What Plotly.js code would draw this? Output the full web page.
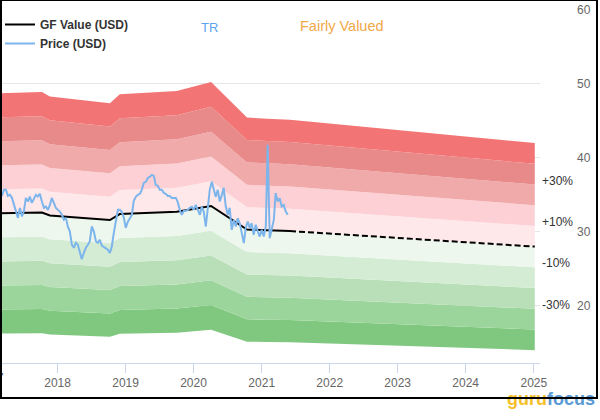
<!DOCTYPE html>
<html>
<head>
<meta charset="utf-8">
<script src="https://cdn.plot.ly/plotly-3.0.1.min.js"></script>
<style>
  html, body { margin: 0; padding: 0; background: #fff; }
  #wrap { position: relative; width: 600px; height: 420px; }
  #chart { width: 600px; height: 420px; }
  #frame { position: absolute; left: 0; top: -1px; width: 594px; height: 396px; border: 2px solid #000; pointer-events: none; }
</style>
</head>
<body>
<div id="wrap">
  <div id="chart"></div>
  <div id="frame"></div>
</div>
<script>
// ---- data ----
const gfDates  = ['2017-02-26','2017-10-09','2017-11-21','2018-10-09','2018-12-01','2019-10-03','2020-04-04','2020-10-14','2021-01-29','2021-06-02'];
const gfValues = [32.5, 32.6, 32.2, 31.6, 32.4, 32.7, 33.5, 30.3, 30.2, 30.1];

const projDates  = ['2021-06-02', '2025-01-06'];
const projValues = [30.1, 28.0];

const priceStart = '2017-02-26';
const priceStepDays = 10.73;
const priceValues = [
  35.41,34.86,35.68,35.68,34.86,35.00,34.60,33.64,32.74,31.89,
  33.24,32.07,32.74,34.59,34.09,34.77,33.92,34.59,35.00,34.77,
  35.14,34.09,33.24,33.42,32.97,33.64,34.59,33.92,33.24,32.97,
  32.74,32.30,31.62,31.89,30.72,30.04,28.24,27.84,28.51,28.24,
  27.16,26.30,27.16,27.84,28.24,28.69,30.72,30.04,28.69,28.51,
  28.92,28.11,27.97,27.70,27.57,27.16,27.97,29.86,31.35,32.97,
  32.97,32.70,31.89,30.54,31.35,31.89,32.30,34.19,34.73,35.00,
  35.14,35.68,36.62,36.76,37.30,37.43,37.70,37.57,36.35,36.22,
  35.68,35.68,35.27,35.14,34.86,34.86,34.59,34.59,34.59,34.05,
  32.97,32.30,32.84,32.84,32.97,33.24,33.38,32.97,33.64,32.97,
  32.30,33.38,32.70,30.72,33.24,35.68,36.76,35.68,34.73,35.68,
  34.09,35.00,35.95,33.42,32.30,33.24,30.27,31.62,30.72,31.85,
  31.17,29.82,28.47,30.50,31.39,30.50,31.17,29.59,30.95,30.04,
  29.36,30.27,29.36,30.72,41.76,29.15,30.27,31.62,35.23,34.09,
  34.55,33.42,33.64,32.74,32.30
];

const bandLevels = [0.5, 0.6, 0.7, 0.8, 0.9, 1.0, 1.1, 1.2, 1.3, 1.4, 1.5];
const bandColors = ['#80c880','#9cd59c','#b8dfb8','#d4ecd4','#eef7ee',
                    '#ffe8ea','#fcd0d4','#f0aaaa','#e88a8a','#f27474'];
const pctLabels = ['+30%', '+10%', '-10%', '-30%'];
const pctLevels = [1.3, 1.1, 0.9, 0.7];

const yTicks = [20, 30, 40, 50, 60];
const xTickVals = ['2018-01-01','2019-01-01','2020-01-01','2021-01-01','2022-01-01','2023-01-01','2024-01-01','2025-01-01'];
const xTickText = ['2018','2019','2020','2021','2022','2023','2024','2025'];

// ---- build traces ----
const allGfDates = gfDates.concat(projDates.slice(1));
const allGfValues = gfValues.concat(projValues.slice(1));

const priceDates = priceValues.map((v, i) => {
  const t = Date.parse(priceStart + 'T00:00:00Z') + i * priceStepDays * 86400000;
  return new Date(t).toISOString().slice(0, 10);
});

const traces = [];
bandLevels.forEach((lvl, i) => {
  traces.push({
    x: allGfDates,
    y: allGfValues.map(v => v * lvl),
    type: 'scatter', mode: 'lines',
    line: { width: 0, color: i === 0 ? 'rgba(0,0,0,0)' : bandColors[i - 1] },
    fill: i === 0 ? 'none' : 'tonexty',
    fillcolor: i === 0 ? undefined : bandColors[i - 1],
    showlegend: false, hoverinfo: 'skip'
  });
});

traces.push({
  x: gfDates, y: gfValues, name: 'GF Value (USD)',
  type: 'scatter', mode: 'lines', line: { color: '#000000', width: 2 }
});
traces.push({
  x: projDates, y: projValues, name: 'GF Value projection',
  type: 'scatter', mode: 'lines', line: { color: '#000000', width: 2, dash: '6px,3px' },
  showlegend: false
});
traces.push({
  x: priceDates, y: priceValues, name: 'Price (USD)',
  type: 'scatter', mode: 'lines', line: { color: '#7cb5ec', width: 2 }
});

const PH = 353.3; // plot height in px, used to place header texts
const lastGf = projValues[projValues.length - 1];
const annotations = pctLabels.map((t, i) => ({
  text: t, xref: 'paper', x: 1, xanchor: 'left', xshift: 0,
  yref: 'y', y: lastGf * pctLevels[i], yanchor: 'middle', yshift: 4,
  showarrow: false, font: { family: 'Liberation Sans, Arial, sans-serif', size: 12, color: '#333333' }
}));
annotations.push({
  text: 'TR', xref: 'paper', yref: 'paper', x: 199 / 540, y: 1 - 17.5 / PH,
  xanchor: 'left', yanchor: 'middle', showarrow: false,
  font: { family: 'Liberation Sans, Arial, sans-serif', size: 13, color: '#5aa5ef' }
});
annotations.push({
  text: 'Fairly Valued', xref: 'paper', yref: 'paper', x: 298 / 540, y: 1 - 16.5 / PH,
  xanchor: 'left', yanchor: 'middle', showarrow: false,
  font: { family: 'Liberation Sans, Arial, sans-serif', size: 14.5, color: '#f0a848' }
});
annotations.push({
  text: '2017', xref: 'paper', yref: 'paper', x: -10 / 540, y: -15 / PH,
  xanchor: 'center', yanchor: 'middle', showarrow: false,
  font: { family: 'Liberation Sans, Arial, sans-serif', size: 12, color: '#666666' }
});
annotations.push({
  text: '<b><span style="color:#f5c02a">guru</span><span style="color:#5b9bd5">focus</span></b>',
  xref: 'paper', yref: 'paper', x: 551 / 540, y: -36 / PH,
  xanchor: 'center', yanchor: 'middle', showarrow: false,
  font: { family: 'Liberation Sans Narrow, Liberation Sans, Arial, sans-serif', size: 18, color: '#5b9bd5' }
});

const layout = {
  width: 600, height: 420,
  margin: { l: 0, r: 60, t: 10, b: 56.7, pad: 0 },
  paper_bgcolor: '#ffffff', plot_bgcolor: '#ffffff',
  showlegend: true,
  legend: {
    x: 0, y: 1, xanchor: 'left', yanchor: 'top',
    bgcolor: 'rgba(0,0,0,0)', borderwidth: 0, itemwidth: 30,
    font: { family: 'Liberation Sans, Arial, sans-serif', size: 12, color: '#333333', weight: 'bold' },
    traceorder: 'normal'
  },
  xaxis: {
    type: 'date', range: ['2017-02-26', '2025-02-03'],
    tickmode: 'array', tickvals: xTickVals, ticktext: xTickText,
    showgrid: false, zeroline: false,
    showline: true, linecolor: '#ccd6eb', linewidth: 1,
    ticks: 'outside', ticklen: 9, tickcolor: '#ccd6eb', tickwidth: 1,
    tickfont: { family: 'Liberation Sans, Arial, sans-serif', size: 12, color: '#666666' },
    fixedrange: true
  },
  yaxis: {
    range: [12.26, 60], side: 'right',
    tickmode: 'array', tickvals: yTicks,
    showgrid: true, gridcolor: '#e6e6e6', gridwidth: 1,
    zeroline: false, showline: false, ticks: '',
    ticklabelstandoff: 36,
    tickfont: { family: 'Liberation Sans, Arial, sans-serif', size: 12, color: '#666666' },
    fixedrange: true
  },
  annotations: annotations
};

Plotly.newPlot('chart', traces, layout, { displayModeBar: false, staticPlot: true });
</script>
</body>
</html>
